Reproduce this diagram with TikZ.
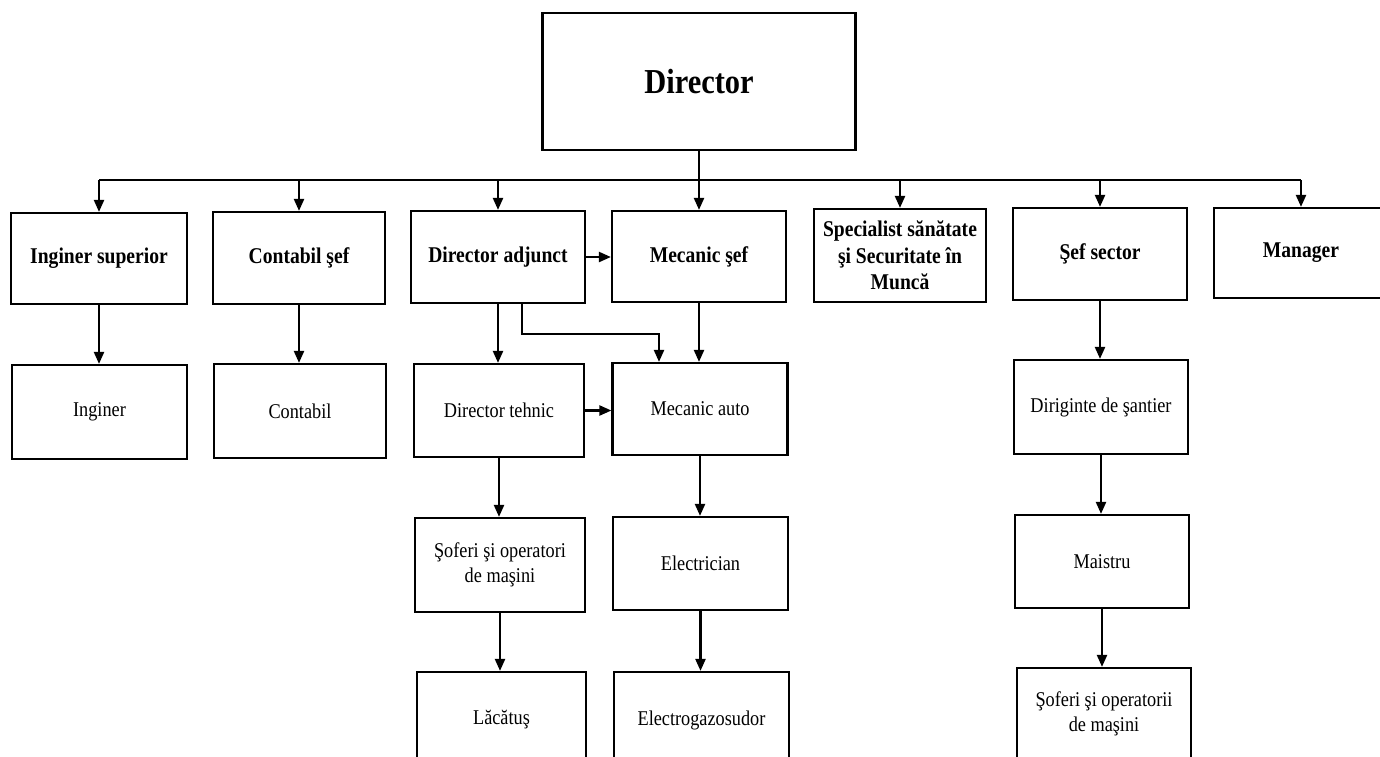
\documentclass[tikz,border=0pt]{standalone}
\usepackage{fontspec}
\setmainfont{Liberation Serif}[FakeStretch=0.87]
\usetikzlibrary{arrows.meta,calc}
\tikzset{
  box/.style={draw, line width=2.2pt, inner sep=0pt, align=center},
  bbox/.style={box, font=\bfseries\fontsize{22.5}{26.5}\selectfont},
  rbox/.style={box, font=\fontsize{21}{24.5}\selectfont},
  arr/.style={line width=2.2pt, -{Triangle[length=12pt,width=10pt]}},
  ln/.style={line width=2.2pt}
}
\begin{document}
\begin{tikzpicture}[x=1pt,y=-1pt]
\useasboundingbox (0,0) rectangle (1380,756);
\clip (0,0) rectangle (1380,756);
\fill[white] (0,0) rectangle (1380,756);
% top
\node[box, font=\bfseries\fontsize{35}{40}\selectfont, minimum width=313, minimum height=137] (dir) at (699,81.5) {Director};
% row 1
\node[bbox, minimum width=176, minimum height=91] (ingsup) at (99,258.5) {Inginer superior};
\node[bbox, minimum width=172, minimum height=92] (consef) at (299,258) {Contabil şef};
\node[bbox, minimum width=174, minimum height=92] (diradj) at (498,257) {Director adjunct};
\node[bbox, minimum width=174, minimum height=91] (mecsef) at (699,256.5) {Mecanic şef};
\node[bbox, minimum width=172, minimum height=93] (spec) at (900,255.5) {Specialist sănătate\\şi Securitate în\\Muncă};
\node[bbox, minimum width=174, minimum height=92] (sefsec) at (1100,254) {Şef sector};
\node[bbox, minimum width=174, minimum height=90] (manager) at (1301,253) {Manager};
% row 2
\node[rbox, minimum width=175, minimum height=94] (inginer) at (99.5,412) {Inginer};
\node[rbox, minimum width=172, minimum height=94] (contabil) at (300,411) {Contabil};
\node[rbox, minimum width=170, minimum height=93] (dirteh) at (499,410.5) {Director tehnic};
\node[rbox, minimum width=175, minimum height=92] (mecauto) at (700,409) {Mecanic auto};
\node[rbox, minimum width=174, minimum height=94] (dirig) at (1101,407) {Diriginte de şantier};
% row 3
\node[rbox, minimum width=170, minimum height=94] (sofer) at (500,565) {Şoferi şi operatori\\de maşini};
\node[rbox, minimum width=175, minimum height=93] (electr) at (700.5,563.5) {Electrician};
\node[rbox, minimum width=174, minimum height=93] (maistru) at (1102,561.5) {Maistru};
% row 4
\node[rbox, minimum width=169, minimum height=96] (lacatus) at (501.5,720) {Lăcătuş};
\node[rbox, minimum width=175, minimum height=96] (egs) at (701.5,720) {Electrogazosudor};
\node[rbox, minimum width=174, minimum height=92] (sofer2) at (1104,714) {Şoferi şi operatorii\\de maşini};
% bus
\coordinate (bus) at (0,180);
\draw[ln] (ingsup.north |- bus) -- (manager.north |- bus);
\draw[arr] (dir.south) -- (dir.south |- mecsef.north);
\foreach \b in {ingsup,consef,diradj,spec,sefsec,manager}
  \draw[arr] (\b.north |- bus) -- (\b.north);
% horizontal links
\draw[arr] (diradj.east) -- (mecsef.west |- diradj.east);
\draw[arr] (dirteh.east) -- (mecauto.west |- dirteh.east);
% vertical links
\draw[arr] (ingsup.south) -- (ingsup.south |- inginer.north);
\draw[arr] (consef.south) -- (consef.south |- contabil.north);
\draw[arr] (diradj.south) -- (diradj.south |- dirteh.north);
\draw[arr] ($(diradj.south)+(24,0)$) -- ++(0,30) -| ($(mecauto.north)+(-41,0)$);
\draw[arr] (mecsef.south) -- (mecsef.south |- mecauto.north);
\draw[arr] (dirteh.south) -- (dirteh.south |- sofer.north);
\draw[arr] (sofer.south) -- (sofer.south |- lacatus.north);
\draw[arr] (mecauto.south) -- (mecauto.south |- electr.north);
\draw[arr] (electr.south) -- (electr.south |- egs.north);
\draw[arr] (sefsec.south) -- (sefsec.south |- dirig.north);
\draw[arr] (dirig.south) -- (dirig.south |- maistru.north);
\draw[arr] (maistru.south) -- (maistru.south |- sofer2.north);
\end{tikzpicture}
\end{document}
